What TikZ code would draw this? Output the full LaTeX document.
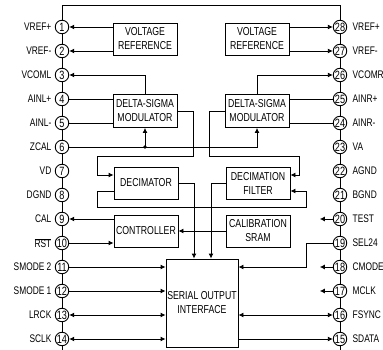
\documentclass[tikz,border=0pt]{standalone}
\usepackage{fontspec}
\setmainfont{Liberation Sans}[FakeStretch=0.76]
\usetikzlibrary{arrows.meta}

\begin{document}
\begin{tikzpicture}[x=1pt, y=-1pt, line width=0.9pt,
  blk/.style={rectangle, draw, line width=0.9pt,
    minimum width=64pt, minimum height=32pt,
    font=\fontsize{11.5}{14}\selectfont, align=center, inner sep=1pt},
  pinc/.style={circle, draw, minimum size=13.5pt, inner sep=0pt,
    font=\fontsize{12}{12}\selectfont},
  lbl/.style={font=\fontsize{11}{12}\selectfont, inner sep=2pt},
  arr/.style={-{Latex[length=5pt,width=5pt]}},
  darr/.style={{Latex[length=5pt,width=5pt]}-{Latex[length=5pt,width=5pt]}}
]
\fill[white] (0,0) rectangle (383,350);
\useasboundingbox (0,0) rectangle (383,350);
\foreach \n/\lab in {1/VREF+,2/VREF-,3/VCOML,4/AINL+,5/AINL-,6/ZCAL,7/VD,8/DGND,9/CAL,
    10/{$\overline{\mbox{RST}}$},11/SMODE 2,12/SMODE 1,13/LRCK,14/SCLK}
  {\node[pinc] (p\n) at (62,{27+24*(\n-1)}) {\n};
   \node[lbl, anchor=east] at ([xshift=-1pt]p\n.west) {\lab};}
\foreach \n/\lab in {28/VREF+,27/VREF-,26/VCOMR,25/AINR+,24/AINR-,23/VA,22/AGND,21/BGND,
    20/TEST,19/SEL24,18/CMODE,17/MCLK,16/FSYNC,15/SDATA}
  {\node[pinc] (p\n) at (340,{27+24*(28-\n)}) {\n};
   \node[lbl, anchor=west] at ([xshift=3pt]p\n.east) {\lab};}
\node[blk] (vrefL) at (145,39) {VOLTAGE\\REFERENCE};
\node[blk] (vrefR) at (257,39) {VOLTAGE\\REFERENCE};
\node[blk, minimum height=33pt] (dsmL) at (145,111) {DELTA-SIGMA\\MODULATOR};
\node[blk, minimum height=33pt] (dsmR) at (257,111) {DELTA-SIGMA\\MODULATOR};
\node[blk] (decim) at (146,183) {DECIMATOR};
\node[blk] (decfilt) at (258,183) {DECIMATION\\FILTER};
\node[blk] (ctrl) at (146,231) {CONTROLLER};
\node[blk] (calsram) at (258,231) {CALIBRATION\\SRAM};
\node[blk, minimum width=72pt, minimum height=88pt] (serial) at (202,303) {SERIAL OUTPUT\\INTERFACE};
\coordinate (topR) at (340,5);
\coordinate (botL) at (62,352);
\coordinate (botR) at (340,352);
\draw (p1.north) |- (topR) -- (p28.north);
\foreach \a [count=\b from 2] in {1,...,13} {\draw (p\a) -- (p\b);}
\foreach \a [count=\b from 16] in {15,...,27} {\draw (p\a) -- (p\b);}
\draw (p14) -- (botL);
\draw (p15) -- (botR);
\foreach \p in {1,2} {\draw[arr] (vrefL.west |- p\p) -- (p\p);}
\foreach \p in {28,27} {\draw[arr] (vrefR.east |- p\p) -- (p\p);}
\draw[arr] (dsmL.north) |- (p3);
\draw[arr] (dsmR.north) |- (p26);
\foreach \p in {4,5} {\draw (p\p) -- (dsmL.west |- p\p);}
\foreach \p in {25,24} {\draw (p\p) -- (dsmR.east |- p\p);}
\coordinate (zj) at (dsmL.south |- p6);
\draw[arr] (p6) -| (dsmR.south);
\draw[arr] (zj) -- (dsmL.south);
\fill (zj) circle (1.8pt);
\coordinate (dlA) at (193,156);
\coordinate (dlB) at (97,175);
\draw[arr] (dsmL.east) -| (dlA) -| (dlB) -- ([yshift=8pt]decim.west);
\coordinate (drA) at (209,156);
\coordinate (drB) at (299,175);
\draw[arr] (dsmR.west) -| (drA) -| (drB) -- ([yshift=8pt]decfilt.east);
\coordinate (lpA) at (97,207);
\coordinate (lpB) at (306,191);
\draw[arr] ([yshift=-8pt]decim.west) -| (lpA) -| (lpB) -- ([yshift=-8pt]decfilt.east);
\draw[arr] (decim.east) -| ([xshift=-8pt]serial.north);
\draw[arr] (decfilt.west) -| ([xshift=9pt]serial.north);
\draw[arr] (calsram) -- (ctrl);
\draw[arr] (ctrl.west |- p9) -- (p9);
\draw[arr] (p10) -- (ctrl.west |- p10);
\foreach \p in {11,12} {\draw[arr] (p\p) -- (serial.west |- p\p);}
\foreach \p in {13,14} {\draw[darr] (p\p) -- (serial.west |- p\p);}
\draw[darr] (p16) -- (serial.east |- p16);
\draw[arr] (serial.east |- p15) -- (p15);
\coordinate (sel) at (306,243);
\draw[arr] (p19) -- (sel) |- (serial.east |- p18);
\foreach \p in {20,18,17} {\draw[arr] (p\p.west) -- ++(-13,0);}
\end{tikzpicture}
\end{document}
